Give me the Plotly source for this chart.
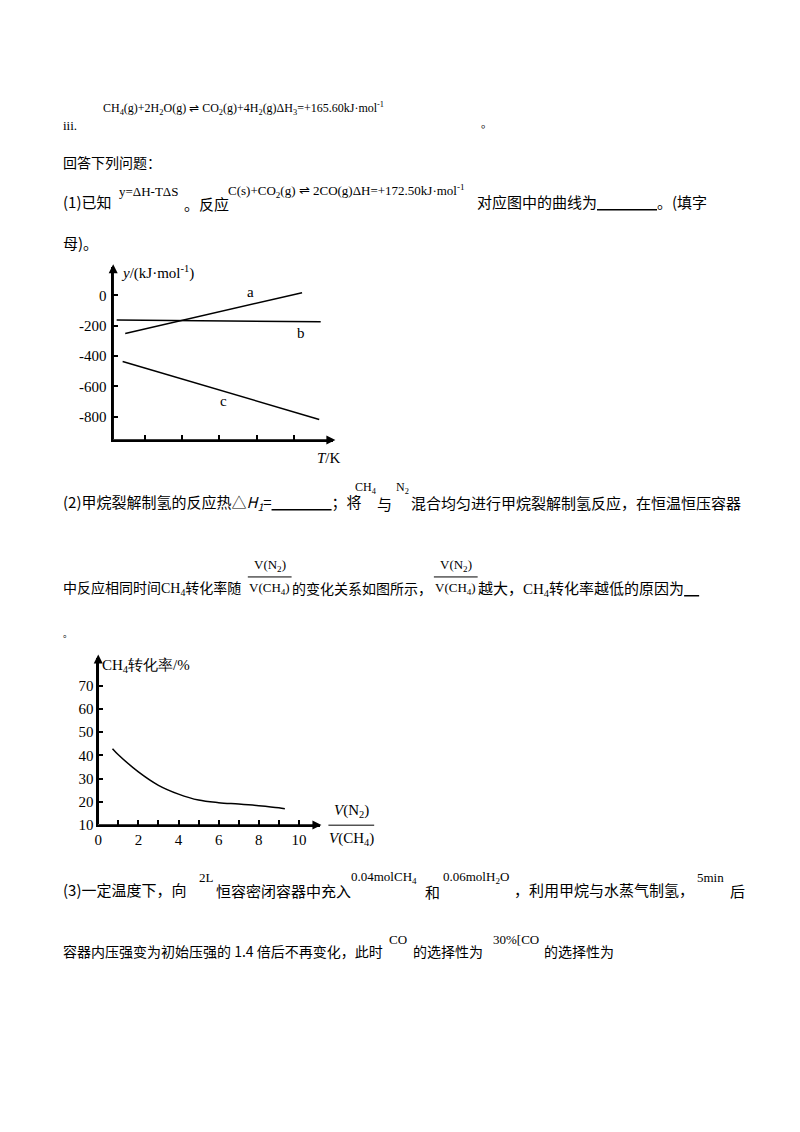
import plotly.graph_objects as go

# chart 1: y = dH - T dS lines (T in tick units)
a_T = [0.48, 5.22]
a_y = [-251, 17]
b_T = [0.25, 5.72]
b_y = [-163, -175]
c_T = [0.41, 5.68]
c_y = [-436, -817]
y1_ticks = [0, -200, -400, -600, -800]
y1_text = ["0", "-200", "-400", "-600", "-800"]
t1_ticks = [1, 2, 3, 4, 5]

# chart 2: CH4 conversion vs V(N2)/V(CH4)
ratio = [0.71, 1, 2, 3, 4, 5, 6, 7, 8, 9, 9.3]
conv = [42.9, 40.3, 32.9, 27.1, 23.3, 20.7, 19.6, 19.0, 18.3, 17.4, 17.0]
y2_ticks = [10, 20, 30, 40, 50, 60, 70]
x2_ticks = list(range(0, 11))
x2_text = [str(v) if v % 2 == 0 else "" for v in x2_ticks]

W, H = 800, 1132
SERIF = "Liberation Serif"
CJK = "Noto Sans CJK SC"
XO, YO = 9, 4  # page offset


def px(x):
    return (x - XO) / W


def py(y):
    return 1 - (y - YO) / H


fig = go.Figure()
line = dict(color="black", width=1.5)
fig.add_trace(go.Scatter(x=a_T, y=a_y, mode="lines", line=line, xaxis="x", yaxis="y"))
fig.add_trace(go.Scatter(x=b_T, y=b_y, mode="lines", line=line, xaxis="x", yaxis="y"))
fig.add_trace(go.Scatter(x=c_T, y=c_y, mode="lines", line=line, xaxis="x", yaxis="y"))
fig.add_trace(go.Scatter(x=ratio, y=conv, mode="lines", line=dict(color="black", width=1.5, shape="spline"),
                         xaxis="x2", yaxis="y2"))

ax_common = dict(showgrid=False, zeroline=False, showline=True, linecolor="black", linewidth=1.5,
                 ticks="inside", ticklen=5, tickcolor="black", tickwidth=1.5,
                 tickfont=dict(family=SERIF, size=15, color="black"))

fig.update_layout(
    width=W, height=H, margin=dict(l=0, r=0, t=0, b=0),
    paper_bgcolor="white", plot_bgcolor="white", showlegend=False,
    xaxis=dict(domain=[px(110.7), px(332)], range=[0.157, 6.06], tickvals=t1_ticks,
               showticklabels=False, anchor="y", **ax_common),
    yaxis=dict(domain=[py(439), py(265)], range=[-952, 185], tickvals=y1_ticks, ticktext=y1_text,
               ticklabelstandoff=2, anchor="x", **ax_common),
    xaxis2=dict(domain=[px(95.7), px(318.3)], range=[0, 11.04], tickvals=x2_ticks, ticktext=x2_text,
                anchor="y2", **ax_common),
    yaxis2=dict(domain=[py(826.7), py(658.3)], range=[10, 82.2], tickvals=y2_ticks,
                anchor="x2", **ax_common),
)

# arrow heads on axes
for (x0, y0, x1, y1) in [(110.7, 439, 110.7, 262), (110.7, 439, 334, 439),
                         (95.7, 826.7, 95.7, 655), (95.7, 826.7, 320, 826.7)]:
    fig.add_annotation(xref="paper", yref="paper", x=px(x1), y=py(y1), ax=x0 - x1, ay=y0 - y1,
                       axref="pixel", ayref="pixel", text="", showarrow=True,
                       arrowhead=2, arrowsize=1.2, arrowwidth=1.5, arrowcolor="black")


def t(x, y, text, size=15, family=CJK, anchor="left"):
    fig.add_annotation(xref="paper", yref="paper", x=px(x - 4), y=py(y), text=text, showarrow=False,
                       xanchor=anchor, yanchor="middle",
                       font=dict(family=family, size=size, color="black"))


def frac(cx, y_num, y_den, num, den, size=14, family=SERIF, half=23):
    t(cx + 4, y_num, num, size, family, "center")
    t(cx + 4, y_den, den, size, family, "center")
    fig.add_shape(type="line", xref="paper", yref="paper", x0=px(cx - half), x1=px(cx + half),
                  y0=py((y_num + y_den) / 2), y1=py((y_num + y_den) / 2),
                  line=dict(color="black", width=1))


# chart labels
t(121, 270, "<i>y</i>/(kJ·mol<sup>-1</sup>)", 15, SERIF)
t(253, 290, "a", 15, SERIF, "center")
t(303, 331, "b", 15, SERIF, "center")
t(226, 400, "c", 15, SERIF, "center")
t(318, 457, "<i>T</i>/K", 15, SERIF)
t(101, 667, "CH<sub>4</sub>转化率/%", 15, SERIF)
frac(350, 813, 841, "<i>V</i>(N<sub>2</sub>)", "<i>V</i>(CH<sub>4</sub>)", 15, half=23)

# document text
ser = "font-family:'Liberation Serif'"
t(62, 122, "iii.", 13, SERIF)
t(102, 105, "CH<sub>4</sub>(g)+2H<sub>2</sub>O(g) ⇌ CO<sub>2</sub>(g)+4H<sub>2</sub>(g)ΔH<sub>3</sub>=+165.60kJ·mol<sup>-1</sup>", 12, SERIF)
t(482, 120, "。", 11)
t(62, 159, "回答下列问题：", 14)
t(62, 199, "(1)已知", 15)
t(119, 189, "y=ΔH-TΔS", 13, SERIF)
t(184, 201, "。反应", 15)
t(228, 188, "C(s)+CO<sub>2</sub>(g) ⇌ 2CO(g)ΔH=+172.50kJ·mol<sup>-1</sup>", 13, SERIF)
t(478, 199, "对应图中的曲线为<u>　　　　</u>。(填字", 15)
t(62, 240, "母)。", 15)
t(62, 502, "(2)甲烷裂解制氢的反应热△<i>H<sub>1</sub></i>=<u>　　　　</u>；将", 15)
t(356, 487, "CH<sub>4</sub>", 12, SERIF)
t(378, 503, "与", 15)
t(397, 487, "N<sub>2</sub>", 12, SERIF)
t(412, 502, "混合均匀进行甲烷裂解制氢反应，在恒温恒压容器", 15)
t(62, 588, f"中反应相同时间<span style=\"{ser}\">CH<sub>4</sub></span>转化率随", 14)
frac(268, 565, 589, "V(N<sub>2</sub>)", "V(CH<sub>4</sub>)", 13, half=22)
t(292, 588, "的变化关系如图所示，", 14)
frac(455, 565, 589, "V(N<sub>2</sub>)", "V(CH<sub>4</sub>)", 13, half=22)
t(479, 588, f"越大，<span style=\"{ser}\">CH<sub>4</sub></span>转化率越低的原因为<u>　</u>", 15)
t(62, 634, "。", 9)
t(62, 892, "(3)一定温度下，向", 15)
t(199, 880, "2L", 13, SERIF)
t(216, 893, "恒容密闭容器中充入", 15)
t(352, 880, "0.04molCH<sub>4</sub>", 13, SERIF)
t(426, 894, "和", 15)
t(444, 880, "0.06molH<sub>2</sub>O", 13, SERIF)
t(516, 892, "，利用甲烷与水蒸气制氢，", 15)
t(699, 880, "5min", 13, SERIF)
t(733, 893, "后", 15)
t(62, 954, "容器内压强变为初始压强的 1.4 倍后不再变化，此时", 14)
t(390, 942, "CO", 13, SERIF)
t(414, 954, "的选择性为", 14)
t(494, 942, "30%[CO", 13, SERIF)
t(546, 954, "的选择性为", 14)

fig.write_html("out.html")
